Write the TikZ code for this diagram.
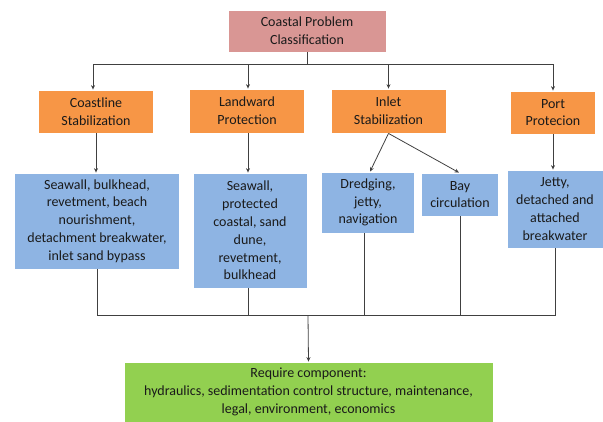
\documentclass[tikz,border=0pt]{standalone}
\usepackage{fontspec}
\setmainfont{Carlito}
\usetikzlibrary{arrows.meta}
\definecolor{pinkc}{HTML}{D99694}
\definecolor{orangec}{HTML}{F79646}
\definecolor{bluec}{HTML}{8EB4E3}
\definecolor{greenc}{HTML}{92D050}
\definecolor{linec}{HTML}{404040}
\definecolor{textc}{HTML}{1A1A1A}
\tikzset{
  boxbase/.style={draw=white, line width=0.8pt, align=center, inner sep=0pt,
    text=textc, font=\fontsize{14}{17.8}\selectfont},
  pinkbox/.style={boxbase, fill=pinkc},
  orangebox/.style={boxbase, fill=orangec},
  bluebox/.style={boxbase, fill=bluec},
  greenbox/.style={boxbase, fill=greenc},
  conn/.style={draw=linec, line width=0.8pt},
  arr/.style={conn, -{Stealth[length=4.5pt,width=4pt]}}
}
\begin{document}
\begin{tikzpicture}[x=1pt,y=-1pt]
\useasboundingbox (0,0) rectangle (603,421);
% top
\node[pinkbox, minimum width=158pt, minimum height=42pt] (top) at (307,31) {Coastal Problem\\Classification};
% second row
\node[orangebox, minimum width=115pt, minimum height=43pt] (cs) at (96,111.5) {Coastline\\Stabilization};
\node[orangebox, minimum width=115pt, minimum height=44pt] (lp) at (247,111) {Landward\\Protection};
\node[orangebox, minimum width=115pt, minimum height=44pt] (is) at (388.5,111) {Inlet\\Stabilization};
\node[orangebox, minimum width=85pt, minimum height=43pt] (pp) at (553,112.5) {Port\\Protecion};
% third row
\node[bluebox, minimum width=165pt, minimum height=96pt] (b1) at (97,221) {Seawall, bulkhead,\\revetment, beach\\nourishment,\\detachment breakwater,\\inlet sand bypass};
\node[bluebox, minimum width=114pt, minimum height=115pt] (b2) at (250,230.5) {Seawall,\\protected\\coastal, sand\\dune,\\revetment,\\bulkhead};
\node[bluebox, minimum width=93pt, minimum height=61pt] (b3) at (368,202.5) {Dredging,\\jetty,\\navigation};
\node[bluebox, minimum width=77pt, minimum height=43pt] (b4) at (460,194.5) {Bay\\circulation};
\node[bluebox, minimum width=96pt, minimum height=78pt] (b5) at (555,209) {Jetty,\\detached and\\attached\\breakwater};
% bottom
\node[greenbox, minimum width=369pt, minimum height=60pt] (gr) at (308.5,392) {Require component:\\hydraulics, sedimentation control structure, maintenance,\\legal, environment, economics};
% top connectors
\coordinate (hub) at (307,64);
\draw[conn] (top.south) -- (hub);
\draw[arr] (hub) -| ([xshift=-3pt]cs.north);
\draw[arr] (hub) -| ([xshift=1pt]lp.north);
\draw[arr] (hub) -| (is.north);
\draw[arr] (hub) -| (pp.north);
% second to third
\draw[arr] (cs.south) -- (cs.south |- b1.north);
\draw[arr] ([xshift=1pt]lp.south) -- ([xshift=1pt]lp.south |- b2.north);
\draw[arr] (is.south) -- ([xshift=2pt]b3.north);
\draw[arr] (is.south) -- ([xshift=-1pt]b4.north);
\draw[arr] (pp.south) -- (pp.south |- b5.north);
% bus to bottom
\coordinate (bus) at (308,315);
\draw[conn] (b1.south) -- (b1.south |- bus) -- (b5.south |- bus) -- (b5.south);
\draw[conn] ([xshift=-2pt]b2.south) -- ([xshift=-2pt]b2.south |- bus);
\draw[conn] ([xshift=-4pt]b3.south) -- ([xshift=-4pt]b3.south |- bus);
\draw[conn] (b4.south) -- (b4.south |- bus);
\draw[arr] (bus) -- (gr.north);
\end{tikzpicture}
\end{document}
